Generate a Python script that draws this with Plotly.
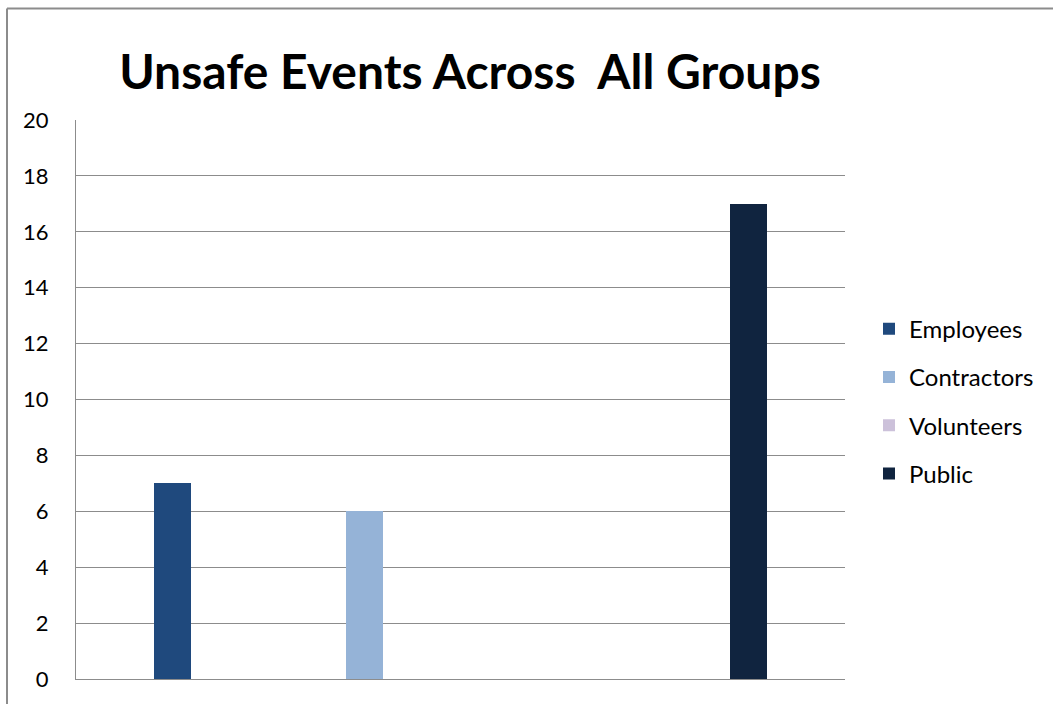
import plotly.graph_objects as go

# Unsafe event counts per group
groups = ["Employees", "Contractors", "Volunteers", "Public"]
counts = [7, 6, 0, 17]
colors = ["#1F497D", "#95B3D7", "#CCC1DA", "#10243F"]
y_ticks = [0, 2, 4, 6, 8, 10, 12, 14, 16, 18, 20]

W, H = 1053, 704
L, R, T, B = 76, 208, 120, 22
plot_w = W - L - R
plot_h = H - T - B

fig = go.Figure()
for i, (name, val, col) in enumerate(zip(groups, counts, colors)):
    fig.add_trace(go.Bar(
        x=[i], y=[val], name=name, width=0.192,
        marker=dict(color=col, line=dict(width=0)),
        legendgroup=name,
    ))

gray = "#8C8C8C"
fig.update_layout(
    width=W, height=H,
    margin=dict(l=L, r=R, t=T, b=B, pad=0),
    paper_bgcolor="white", plot_bgcolor="white",
    font=dict(family="Lato", size=21, color="black"),
    title=dict(text="<b>Unsafe Events Across  All Groups</b>",
               font=dict(family="Lato", size=48, color="black"),
               x=470 / W, xanchor="center",
               y=1 - 72 / H, yanchor="middle"),
    xaxis=dict(range=[-0.5, 3.5], showticklabels=False, showgrid=False,
               zeroline=False, showline=True, linecolor=gray, linewidth=1,
               ticks=""),
    yaxis=dict(range=[0, 20], tickvals=y_ticks, showgrid=True, gridcolor=gray,
               gridwidth=1, zeroline=False, showline=True, linecolor=gray,
               linewidth=1, ticks="", ticklabelstandoff=22,
               tickfont=dict(size=22)),
    showlegend=True,
    legend=dict(x=(869 - L) / plot_w, xanchor="left", y=0.497, yanchor="middle",
                tracegroupgap=14, font=dict(size=24), bgcolor="rgba(0,0,0,0)",
                itemwidth=30),
    bargap=0,
)

# chart frame (left and top edges)
x_left = (7 - L) / plot_w
y_top = 1 + (T - 8) / plot_h
fig.add_shape(type="line", xref="paper", yref="paper", x0=x_left, x1=x_left,
              y0=-1, y1=y_top, line=dict(color=gray, width=2))
fig.add_shape(type="line", xref="paper", yref="paper", x0=x_left, x1=2,
              y0=y_top, y1=y_top, line=dict(color=gray, width=2))

fig.write_html("out.html")
